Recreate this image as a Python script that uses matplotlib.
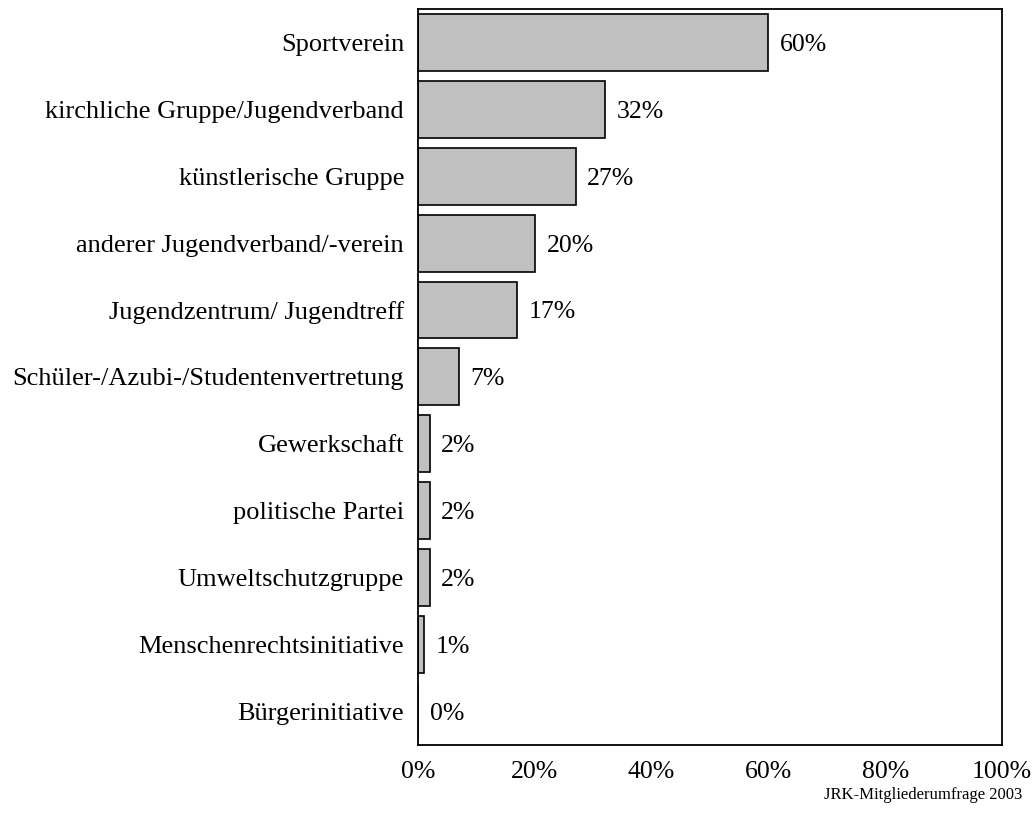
import matplotlib
matplotlib.use('Agg')
import matplotlib.pyplot as plt

## data
categories = ['Sportverein', 'kirchliche Gruppe/Jugendverband', 'künstlerische Gruppe',
              'anderer Jugendverband/-verein', 'Jugendzentrum/ Jugendtreff',
              'Schüler-/Azubi-/Studentenvertretung', 'Gewerkschaft', 'politische Partei',
              'Umweltschutzgruppe', 'Menschenrechtsinitiative', 'Bürgerinitiative']
values = [60, 32, 27, 20, 17, 7, 2, 2, 2, 1, 0]
xticks = [0, 20, 40, 60, 80, 100]
source = 'JRK-Mitgliederumfrage 2003'

plt.rcParams['font.family'] = ['Liberation Serif', 'DejaVu Serif']

fig = plt.figure(figsize=(10.32, 8.14), dpi=100)
ax = fig.add_axes([0.405, 0.085, 0.566, 0.904])

ypos = range(len(categories))
ax.barh(ypos, values, height=0.85, color='#c0c0c0', edgecolor='black', linewidth=1.2)

## value labels next to the bars
for y, v in zip(ypos, values):
    ax.text(v + 2.0, y, f'{v}%', va='center_baseline', ha='left', fontsize=18.5)

ax.set_xlim(0, 100)
ax.set_ylim(len(categories) - 0.5, -0.5)
ax.set_yticks(list(ypos))
ax.set_yticklabels(categories, fontsize=19)
ax.set_xticks(xticks)
ax.set_xticklabels([f'{t}%' for t in xticks], fontsize=18.5)
ax.tick_params(length=0, pad=10)
ax.tick_params(axis='x', pad=12)
for s in ax.spines.values():
    s.set_linewidth(1.3)

fig.text(0.991, 0.013, source, ha='right', va='bottom', fontsize=12)

fig.savefig('out.png', dpi=100)
